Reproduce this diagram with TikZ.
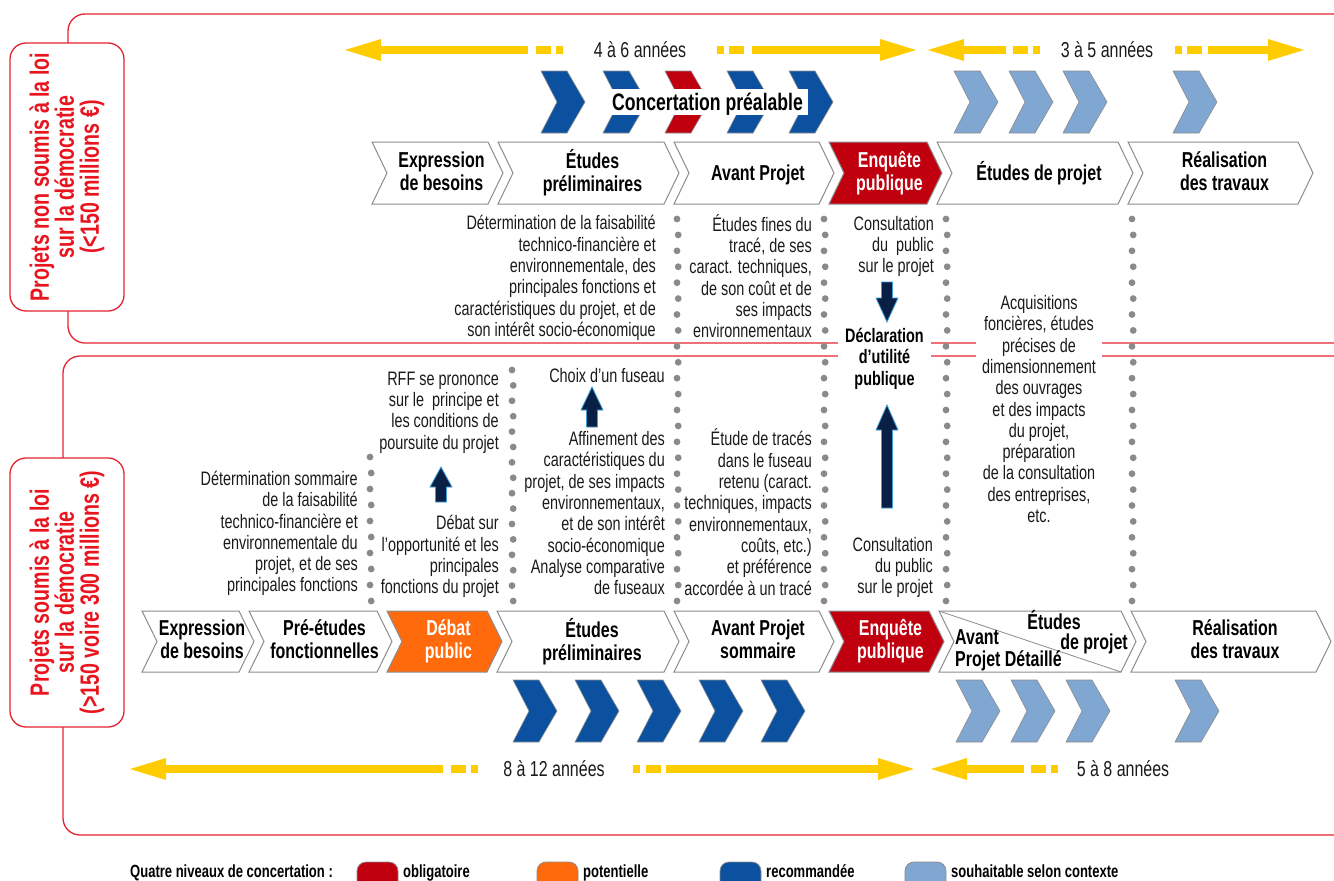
\documentclass[tikz,border=0pt]{standalone}
\usepackage{fontspec}
\setmainfont[FakeStretch=0.74]{Liberation Sans}
\definecolor{frame}{HTML}{E52330}
\definecolor{lab}{HTML}{E8141E}
\definecolor{yel}{HTML}{FFCC00}
\definecolor{obl}{HTML}{C0000E}
\definecolor{pot}{HTML}{FF6A0D}
\definecolor{rec}{HTML}{0B51A0}
\definecolor{sou}{HTML}{7FA7D1}
\definecolor{dotc}{HTML}{8A8A8A}
\definecolor{navy}{HTML}{0A1F44}
\definecolor{navyedge}{HTML}{3FA0D8}
\definecolor{txt}{HTML}{1A1A1A}
\definecolor{stgedge}{HTML}{8C8C8C}
\newcommand{\stg}[6]{%
  \draw[stgbox,#6] (#2,#4) -- ({#3-15},#4) -- (#3,{(#4+#5)/2}) -- ({#3-15},#5) -- (#2,#5) -- ({#2+15},{(#4+#5)/2}) -- cycle;
  \coordinate (#1) at ({(#2+#3)/2+4},{(#4+#5)/2});}
\newcommand{\cchev}[4]{%
  \draw[cc,fill=#4] (#1,#2) -- ({#1+26},#2) -- ({#1+44},{(#2+#3)/2}) -- ({#1+26},#3) -- (#1,#3) -- ({#1+16},{(#2+#3)/2}) -- cycle;}
\newcommand{\yheadL}[2]{\fill[yel] (#1,#2) -- ({#1+36},{#2-11}) -- ({#1+36},{#2+11}) -- cycle;}
\newcommand{\yheadR}[2]{\fill[yel] (#1,#2) -- ({#1-36},{#2-11}) -- ({#1-36},{#2+11}) -- cycle;}
\newcommand{\ybar}[3]{\fill[yel] (#1,{#3-4}) rectangle (#2,{#3+4});}
\newcommand{\darrow}[4]{%
  \draw[dark] ({#1-5.5},#2) -- ({#1-5.5},#3) -- ({#1-11},#3) -- (#1,#4) -- ({#1+11},#3) -- ({#1+5.5},#3) -- ({#1+5.5},#2) -- cycle;}
\tikzset{
  frm/.style={draw=frame, line width=1.3pt},
  labbox/.style={draw=frame, line width=1.3pt, fill=white, rounded corners=16pt, rotate=90, align=center, text=lab, font=\bfseries\fontsize{26.5}{25}\selectfont, inner sep=0pt},
  stgbox/.style={draw=stgedge, line width=1pt, fill=white},
  stgtxt/.style={align=center, inner sep=0pt, font=\bfseries\fontsize{21.6}{23}\selectfont, text=black,
    execute at begin node={\rule{0pt}{19.8pt}}, execute at end node={\rule[-4.3pt]{0pt}{4.3pt}}},
  wtxt/.style={stgtxt, text=white},
  body/.style={align=right, inner sep=0pt, font=\fontsize{19.5}{21.3}\selectfont, text=txt,
    execute at begin node={\rule{0pt}{18pt}}, execute at end node={\rule[-4pt]{0pt}{4pt}}},
  bodyc/.style={body, align=center},
  decl/.style={align=center, inner ysep=0pt, inner xsep=6pt, font=\bfseries\fontsize{19.5}{21.5}\selectfont, text=black,
    execute at begin node={\rule{0pt}{18pt}}, execute at end node={\rule[-4pt]{0pt}{4pt}}},
  years/.style={inner sep=0pt, font=\fontsize{21.6}{23}\selectfont, text=txt,
    execute at begin node={\rule{0pt}{19.8pt}}, execute at end node={\rule[-4.3pt]{0pt}{4.3pt}}},
  conc/.style={fill=white, inner xsep=5pt, inner ysep=0pt, minimum height=26pt, font=\bfseries\fontsize{23.8}{25}\selectfont, text=black,
    execute at begin node={\rule{0pt}{21.5pt}}, execute at end node={\rule[-4.5pt]{0pt}{4.5pt}}},
  cc/.style={draw=stgedge, line width=0.6pt},
  leg/.style={inner sep=0pt, font=\bfseries\fontsize{17.6}{20}\selectfont, text=black,
    execute at begin node={\rule{0pt}{16pt}}, execute at end node={\rule[-3.4pt]{0pt}{3.4pt}}},
  swatch/.style={draw=stgedge, line width=0.8pt, rounded corners=9pt},
  dark/.style={draw=navyedge, fill=navy, line width=0.8pt},
}
\begin{document}
\begin{tikzpicture}[x=1pt,y=-1pt]
\useasboundingbox (0,0) rectangle (1334,881);
\clip (0,0) rectangle (1334,881);
% frames
\draw[frm, rounded corners=17pt] (1400,14) -- (68,14) -- (68,343) -- (1400,343);
\draw[frm, rounded corners=17pt] (1400,356) -- (63,356) -- (63,835) -- (1400,835);
% side labels
\node[labbox, minimum width=268pt, minimum height=114pt] (labtop) at (67,177) {Projets non soumis à la loi\\sur la démocratie\\(<150 millions €)};
\node[labbox, minimum width=269pt, minimum height=114pt] (labbot) at (67,592.5) {Projets soumis à la loi\\sur la démocratie\\(>150 voire 300 millions €)};
% top yellow arrows
\yheadL{345}{50} \ybar{380}{528}{50} \ybar{536}{551}{50} \ybar{556}{563}{50}
\node[years] (y1) at (640,50) {4 à 6 années};
\ybar{717}{724}{50} \ybar{729}{744}{50} \ybar{752}{881}{50} \yheadR{916}{50}
\yheadL{928}{50} \ybar{963}{1006}{50} \ybar{1013}{1028}{50} \ybar{1033}{1040}{50}
\node[years] (y2) at (1107,50) {3 à 5 années};
\ybar{1175}{1182}{50} \ybar{1187}{1202}{50} \ybar{1208}{1269}{50} \yheadR{1304}{50}
% bottom yellow arrows
\yheadL{130}{769} \ybar{165}{443}{769} \ybar{451}{466}{769} \ybar{471}{478}{769}
\node[years] (y3) at (554,769) {8 à 12 années};
\ybar{633}{640}{769} \ybar{646}{661}{769} \ybar{666}{879}{769} \yheadR{914}{769}
\yheadL{931}{769} \ybar{966}{1024}{769} \ybar{1031}{1046}{769} \ybar{1051}{1058}{769}
\node[years] (y4) at (1123,769) {5 à 8 années};
% top concertation chevrons
\cchev{541}{71}{133}{rec} \cchev{603}{71}{133}{rec} \cchev{665}{71}{133}{obl} \cchev{727}{71}{133}{rec} \cchev{789}{71}{133}{rec}
\cchev{954}{71}{133}{sou} \cchev{1009}{71}{133}{sou} \cchev{1063}{71}{133}{sou} \cchev{1173}{71}{133}{sou}
\node[conc] (concert) at (707.5,102) {Concertation préalable};
% bottom concertation chevrons
\cchev{513}{680}{742}{rec} \cchev{575}{680}{742}{rec} \cchev{637}{680}{742}{rec} \cchev{699}{680}{742}{rec} \cchev{761}{680}{742}{rec}
\cchev{956}{680}{742}{sou} \cchev{1011}{680}{742}{sou} \cchev{1066}{680}{742}{sou} \cchev{1175}{680}{742}{sou}
% top stage row
\stg{t1}{372}{503}{142}{204}{}
\stg{t2}{498}{679}{142}{204}{}
\stg{t3}{674}{834}{142}{204}{}
\stg{t4}{829}{942}{142}{204}{fill=obl}
\stg{t5}{937}{1133}{142}{204}{}
\stg{t6}{1128}{1313}{142}{204}{}
\node[stgtxt] (t1t) at (t1) {Expression\\de besoins};
\node[stgtxt] (t2t) at (t2) {Études\\préliminaires};
\node[stgtxt] (t3t) at (t3) {Avant Projet};
\node[wtxt] (t4t) at (t4) {Enquête\\publique};
\node[stgtxt] (t5t) at (t5) {Études de projet};
\node[stgtxt] (t6t) at (t6) {Réalisation\\des travaux};
% bottom stage row
\stg{s1}{142}{254}{611}{672}{}
\stg{s2}{249}{392}{611}{672}{}
\stg{s3}{387}{502}{611}{672}{fill=pot}
\stg{s4}{497}{679}{611}{672}{}
\stg{s5}{674}{834}{611}{672}{}
\stg{s6}{829}{944}{611}{672}{fill=obl}
\stg{s7}{939}{1136}{611}{672}{}
\stg{s8}{1131}{1331}{611}{672}{}
\draw[draw=stgedge, line width=0.8pt] (939,611) -- (1121,672);
\node[stgtxt] (s1t) at (s1) {Expression\\de besoins};
\node[stgtxt] (s2t) at (s2) {Pré-études\\fonctionnelles};
\node[wtxt] (s3t) at (s3) {Débat\\public};
\node[stgtxt] (s4t) at (s4) {Études\\préliminaires};
\node[stgtxt] (s5t) at (s5) {Avant Projet\\sommaire};
\node[wtxt] (s6t) at (s6) {Enquête\\publique};
\node[stgtxt] (s7a) at (1054,622) {Études};
\node[stgtxt, anchor=east] (s7b) at (1128,642) {de projet};
\node[stgtxt, anchor=west] (s7c) at (955,637) {Avant};
\node[stgtxt, anchor=west] (s7d) at (955,659) {Projet Détaillé};
\node[stgtxt] (s8t) at (s8) {Réalisation\\des travaux};
% dotted separators
\foreach \x/\a/\b/\n in {370/457/601/9, 512/370/601/15, 677/219/601/24, 824/219/601/24, 946/219/601/24, 1132/219/601/24}{
  \foreach \i in {0,...,\n}{
    \fill[dotc] ({\x+1.2*mod(\i,2)},{\a+(\b-\a)/\n*\i}) circle (3.4);
  }
}
% text blocks
\node[body, anchor=east] (b1) at (656,278) {Détermination de la faisabilité\\technico-financière et\\environnementale, des\\principales fonctions et\\caractéristiques du projet, et de\\son intérêt socio-économique};
\node[body, anchor=east] (b2) at (812,278) {Études fines du\\tracé, de ses\\caract. techniques,\\de son coût et de\\ses impacts\\environnementaux};
\node[body, anchor=east] (b3) at (934,246.5) {Consultation\\du~ public\\sur le projet};
\node[decl, fill=white, minimum width=93pt] (dup) at (884.5,358.5) {Déclaration\\d’utilité\\publique};
\node[body, anchor=east] (b4) at (933,567.5) {Consultation\\du public\\sur le projet};
\node[bodyc, fill=white, inner xsep=6pt] (acq) at (1039,411) {Acquisitions\\foncières, études\\précises de\\dimensionnement\\des ouvrages\\et des impacts\\du projet,\\préparation\\de la consultation\\des entreprises,\\etc.};
\node[body, anchor=east] (b5) at (358,533.5) {Détermination sommaire\\de la faisabilité\\technico-financière et\\environnementale du\\projet, et de ses\\principales fonctions};
\node[body, anchor=east] (rff) at (499,412.5) {RFF se prononce\\sur le~ principe et\\les conditions de\\poursuite du projet};
\node[body, anchor=east] (deb) at (499,556.5) {Débat sur\\l’opportunité et les\\principales\\fonctions du projet};
\node[body, anchor=east] (choix) at (665,375) {Choix d’un fuseau};
\node[body, anchor=east] (aff) at (665,515) {Affinement des\\caractéristiques du\\projet, de ses impacts\\environnementaux,\\et de son intérêt\\socio-économique\\Analyse comparative\\de fuseaux};
\node[body, anchor=east] (etr) at (812,514) {Étude de tracés\\dans le fuseau\\retenu (caract.\\techniques, impacts\\environnementaux,\\coûts, etc.)\\et préférence\\accordée à un tracé};
% dark arrows
\darrow{887}{282}{298}{322}
\darrow{887}{508}{430}{405}
\darrow{441}{502}{487}{467}
\darrow{592}{427}{410}{387}
% legend
\node[leg, anchor=west] (lg) at (130,871) {Quatre niveaux de concertation :};
\draw[swatch, fill=obl] (357,862) rectangle (398,900);
\node[leg, anchor=west] (lg1) at (403,871) {obligatoire};
\draw[swatch, fill=pot] (537,862) rectangle (578,900);
\node[leg, anchor=west] (lg2) at (583,871) {potentielle};
\draw[swatch, fill=rec] (720,862) rectangle (761,900);
\node[leg, anchor=west] (lg3) at (766,871) {recommandée};
\draw[swatch, fill=sou] (905,862) rectangle (946,900);
\node[leg, anchor=west] (lg4) at (951,871) {souhaitable selon contexte};
\end{tikzpicture}
\end{document}
